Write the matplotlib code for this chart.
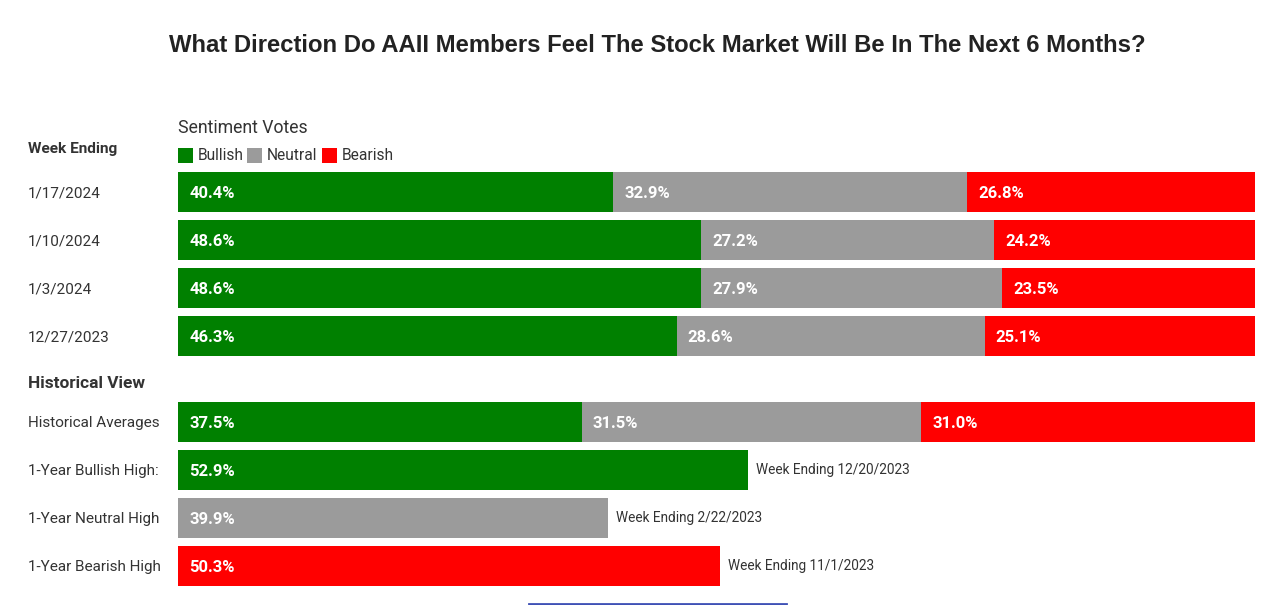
import matplotlib
matplotlib.use("Agg")
import matplotlib.pyplot as plt
from matplotlib.patches import Rectangle
from matplotlib.lines import Line2D

# Data
weeks = ["1/17/2024", "1/10/2024", "1/3/2024", "12/27/2023"]
bullish = [40.4, 48.6, 48.6, 46.3]
neutral = [32.9, 27.2, 27.9, 28.6]
bearish = [26.8, 24.2, 23.5, 25.1]

hist_label = "Historical Averages"
hist_avg = [37.5, 31.5, 31.0]  # bullish, neutral, bearish

high_labels = ["1-Year Bullish High:", "1-Year Neutral High", "1-Year Bearish High"]
high_values = [52.9, 39.9, 50.3]
high_dates = ["Week Ending 12/20/2023", "Week Ending 2/22/2023", "Week Ending 11/1/2023"]

legend_names = ["Bullish", "Neutral", "Bearish"]

GREEN = "#008000"
GRAY = "#9b9b9b"
RED = "#ff0000"
colors = [GREEN, GRAY, RED]
TXT = "#333333"
FONT = "Roboto"

W, H = 1280, 605
fig = plt.figure(figsize=(W / 100, H / 100), dpi=100)


def px(x, y):
    # pixel position -> figure fraction
    return x / W, 1 - y / H


# bar axes: x in percent, y in pixel rows
ax = fig.add_axes([178 / W, 0, 1077 / W, 1])
ax.set_xlim(0, 100)
ax.set_ylim(H, 0)
ax.axis("off")

row_h = 40


def row_y(i):
    # weekly rows first, then historical block after a gap
    return 192 + 48 * i + (38 if i >= 4 else 0)


def bar_label(x, y, val):
    ax.annotate(f"{val:.1f}%", (x, y + 1), xytext=(8, 0), textcoords="offset points",
                ha="left", va="center", color="white", fontsize=12,
                fontweight="bold", family=FONT)


def row_label(i, text):
    fig.text(*px(28, row_y(i) + 1), text, ha="left", va="center", fontsize=11,
             color=TXT, family=FONT)


# weekly stacked bars
for i, wk in enumerate(weeks):
    y = row_y(i)
    left = 0
    for val, c in zip([bullish[i], neutral[i], bearish[i]], colors):
        ax.barh(y, val, left=left, height=row_h, color=c, linewidth=0)
        bar_label(left, y, val)
        left += val
    row_label(i, wk)

# historical averages
y = row_y(4)
left = 0
for val, c in zip(hist_avg, colors):
    ax.barh(y, val, left=left, height=row_h, color=c, linewidth=0)
    bar_label(left, y, val)
    left += val
row_label(4, hist_label)

# one-year highs
for j, (lab, val, dt) in enumerate(zip(high_labels, high_values, high_dates)):
    y = row_y(5 + j)
    ax.barh(y, val, height=row_h, color=colors[j], linewidth=0)
    bar_label(0, y, val)
    ax.annotate(dt, (val, y), xytext=(6, 0), textcoords="offset points",
                ha="left", va="center", color=TXT, fontsize=9.8, family=FONT)
    row_label(5 + j, lab)

# headers
fig.text(*px(28, 149), "Week Ending", ha="left", va="center", fontsize=11.1,
         fontweight="bold", color=TXT, family=FONT)
fig.text(*px(28, 384), "Historical View", ha="left", va="center", fontsize=12.4,
         fontweight="bold", color=TXT, family=FONT)
fig.text(*px(178, 128), "Sentiment Votes", ha="left", va="center", fontsize=12.7,
         color=TXT, family=FONT)

# legend
lx = [178, 247, 322]
for x0, name, c in zip(lx, legend_names, colors):
    fig.add_artist(Rectangle(px(x0, 163), 15 / W, 15 / H, transform=fig.transFigure,
                             color=c, linewidth=0))
    fig.text(*px(x0 + 20, 155), name, ha="left", va="center", fontsize=11.2,
             color=TXT, family=FONT)

# title
fig.text(*px(657, 45), "What Direction Do AAII Members Feel The Stock Market Will Be In The Next 6 Months?",
         ha="center", va="center", fontsize=17.2, fontweight="bold", color="#222222",
         family="Liberation Sans")

# thin blue bar at bottom edge
fig.add_artist(Line2D([529 / W, 786 / W], [1 - 603.5 / H] * 2, transform=fig.transFigure,
                      color="#3f51b5", linewidth=2))

fig.savefig("out.png", dpi=100, facecolor="white")
